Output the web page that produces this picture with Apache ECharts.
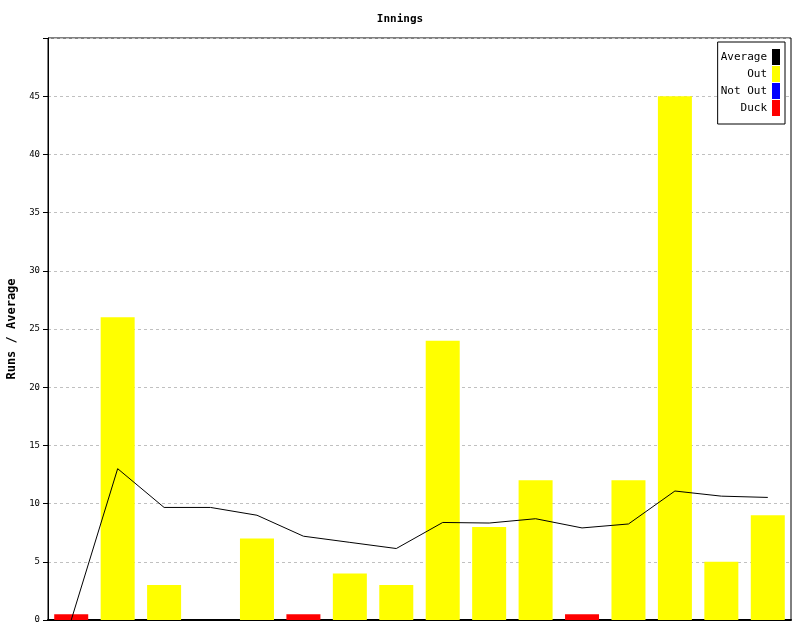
<!DOCTYPE html>
<html><head><meta charset="utf-8">
<script src="https://cdn.jsdelivr.net/npm/echarts@6/dist/echarts.min.js"></script>
<style>html,body{margin:0;padding:0;background:#fff}#c{width:800px;height:640px}</style>
</head><body><div id="c"></div>
<script>
const innings = ['1','2','3','4','5','6','7','8','9','10','11','12','13','14','15','16'];
const outRuns = [null,26,3,null,7,null,4,3,24,8,12,null,12,45,5,9];
const notOutRuns = [null,null,null,0,null,null,null,null,null,null,null,null,null,null,null,null];
const duckMarks = [0.5,null,null,null,null,0.5,null,null,null,null,null,0.5,null,null,null,null];
const average = [0,13,9.67,9.67,9,7.2,6.67,6.14,8.38,8.33,8.7,7.91,8.25,11.08,10.64,10.53];
const yTicks = [0,5,10,15,20,25,30,35,40,45];

const font = '"DejaVu Sans Mono", monospace';
const chart = echarts.init(document.getElementById('c'));
chart.setOption({
  animation: false,
  textStyle: {fontFamily: font},
  title: {text: 'Innings', left: 'center', top: 9,
    textStyle: {fontFamily: font, fontSize: 11, fontWeight: 'bold', color: '#000'}},
  grid: {left: 48, right: 9, top: 38, bottom: 20, show: true, borderColor: '#000', borderWidth: 1,
    containLabel: false, outerBoundsMode: 'none'},
  legend: {
    orient: 'vertical', right: 15, top: 42, align: 'right',
    icon: 'rect', itemWidth: 8, itemHeight: 16, itemGap: 1,
    borderColor: '#000', borderWidth: 1, padding: [7, 5, 8, 3],
    backgroundColor: '#fff',
    textStyle: {fontFamily: font, fontSize: 11, color: '#000'},
    data: ['Average', 'Out', 'Not Out', 'Duck']
  },
  xAxis: {
    type: 'category', data: innings,
    axisLine: {lineStyle: {color: '#000', width: 2}},
    axisTick: {show: false}, axisLabel: {show: false}
  },
  yAxis: {
    type: 'value', min: 0, max: 50, interval: 5,
    name: 'Runs / Average', nameLocation: 'middle', nameGap: 28,
    nameTextStyle: {fontFamily: font, fontSize: 12, fontWeight: 'bold', color: '#000'},
    axisLine: {show: true, lineStyle: {color: '#000', width: 1}},
    axisTick: {show: true, length: 5, lineStyle: {color: '#000'}},
    axisLabel: {fontFamily: font, fontSize: 9, color: '#000', margin: 8,
      formatter: v => (yTicks.includes(v) ? String(v) : '')},
    splitLine: {lineStyle: {color: '#c0c0c0', type: [3, 3]}}
  },
  series: [
    {name: 'Average', type: 'line', data: average, symbol: 'none', z: 5,
      itemStyle: {color: '#000'}, lineStyle: {color: '#000', width: 1}},
    {name: 'Out', type: 'bar', stack: 'r', data: outRuns, barWidth: 34, itemStyle: {color: '#ffff00'}},
    {name: 'Not Out', type: 'bar', stack: 'r', data: notOutRuns, barWidth: 34, itemStyle: {color: '#0000ff'}},
    {name: 'Duck', type: 'bar', stack: 'r', data: duckMarks, barWidth: 34, itemStyle: {color: '#ff0000'}}
  ]
});
</script></body></html>
